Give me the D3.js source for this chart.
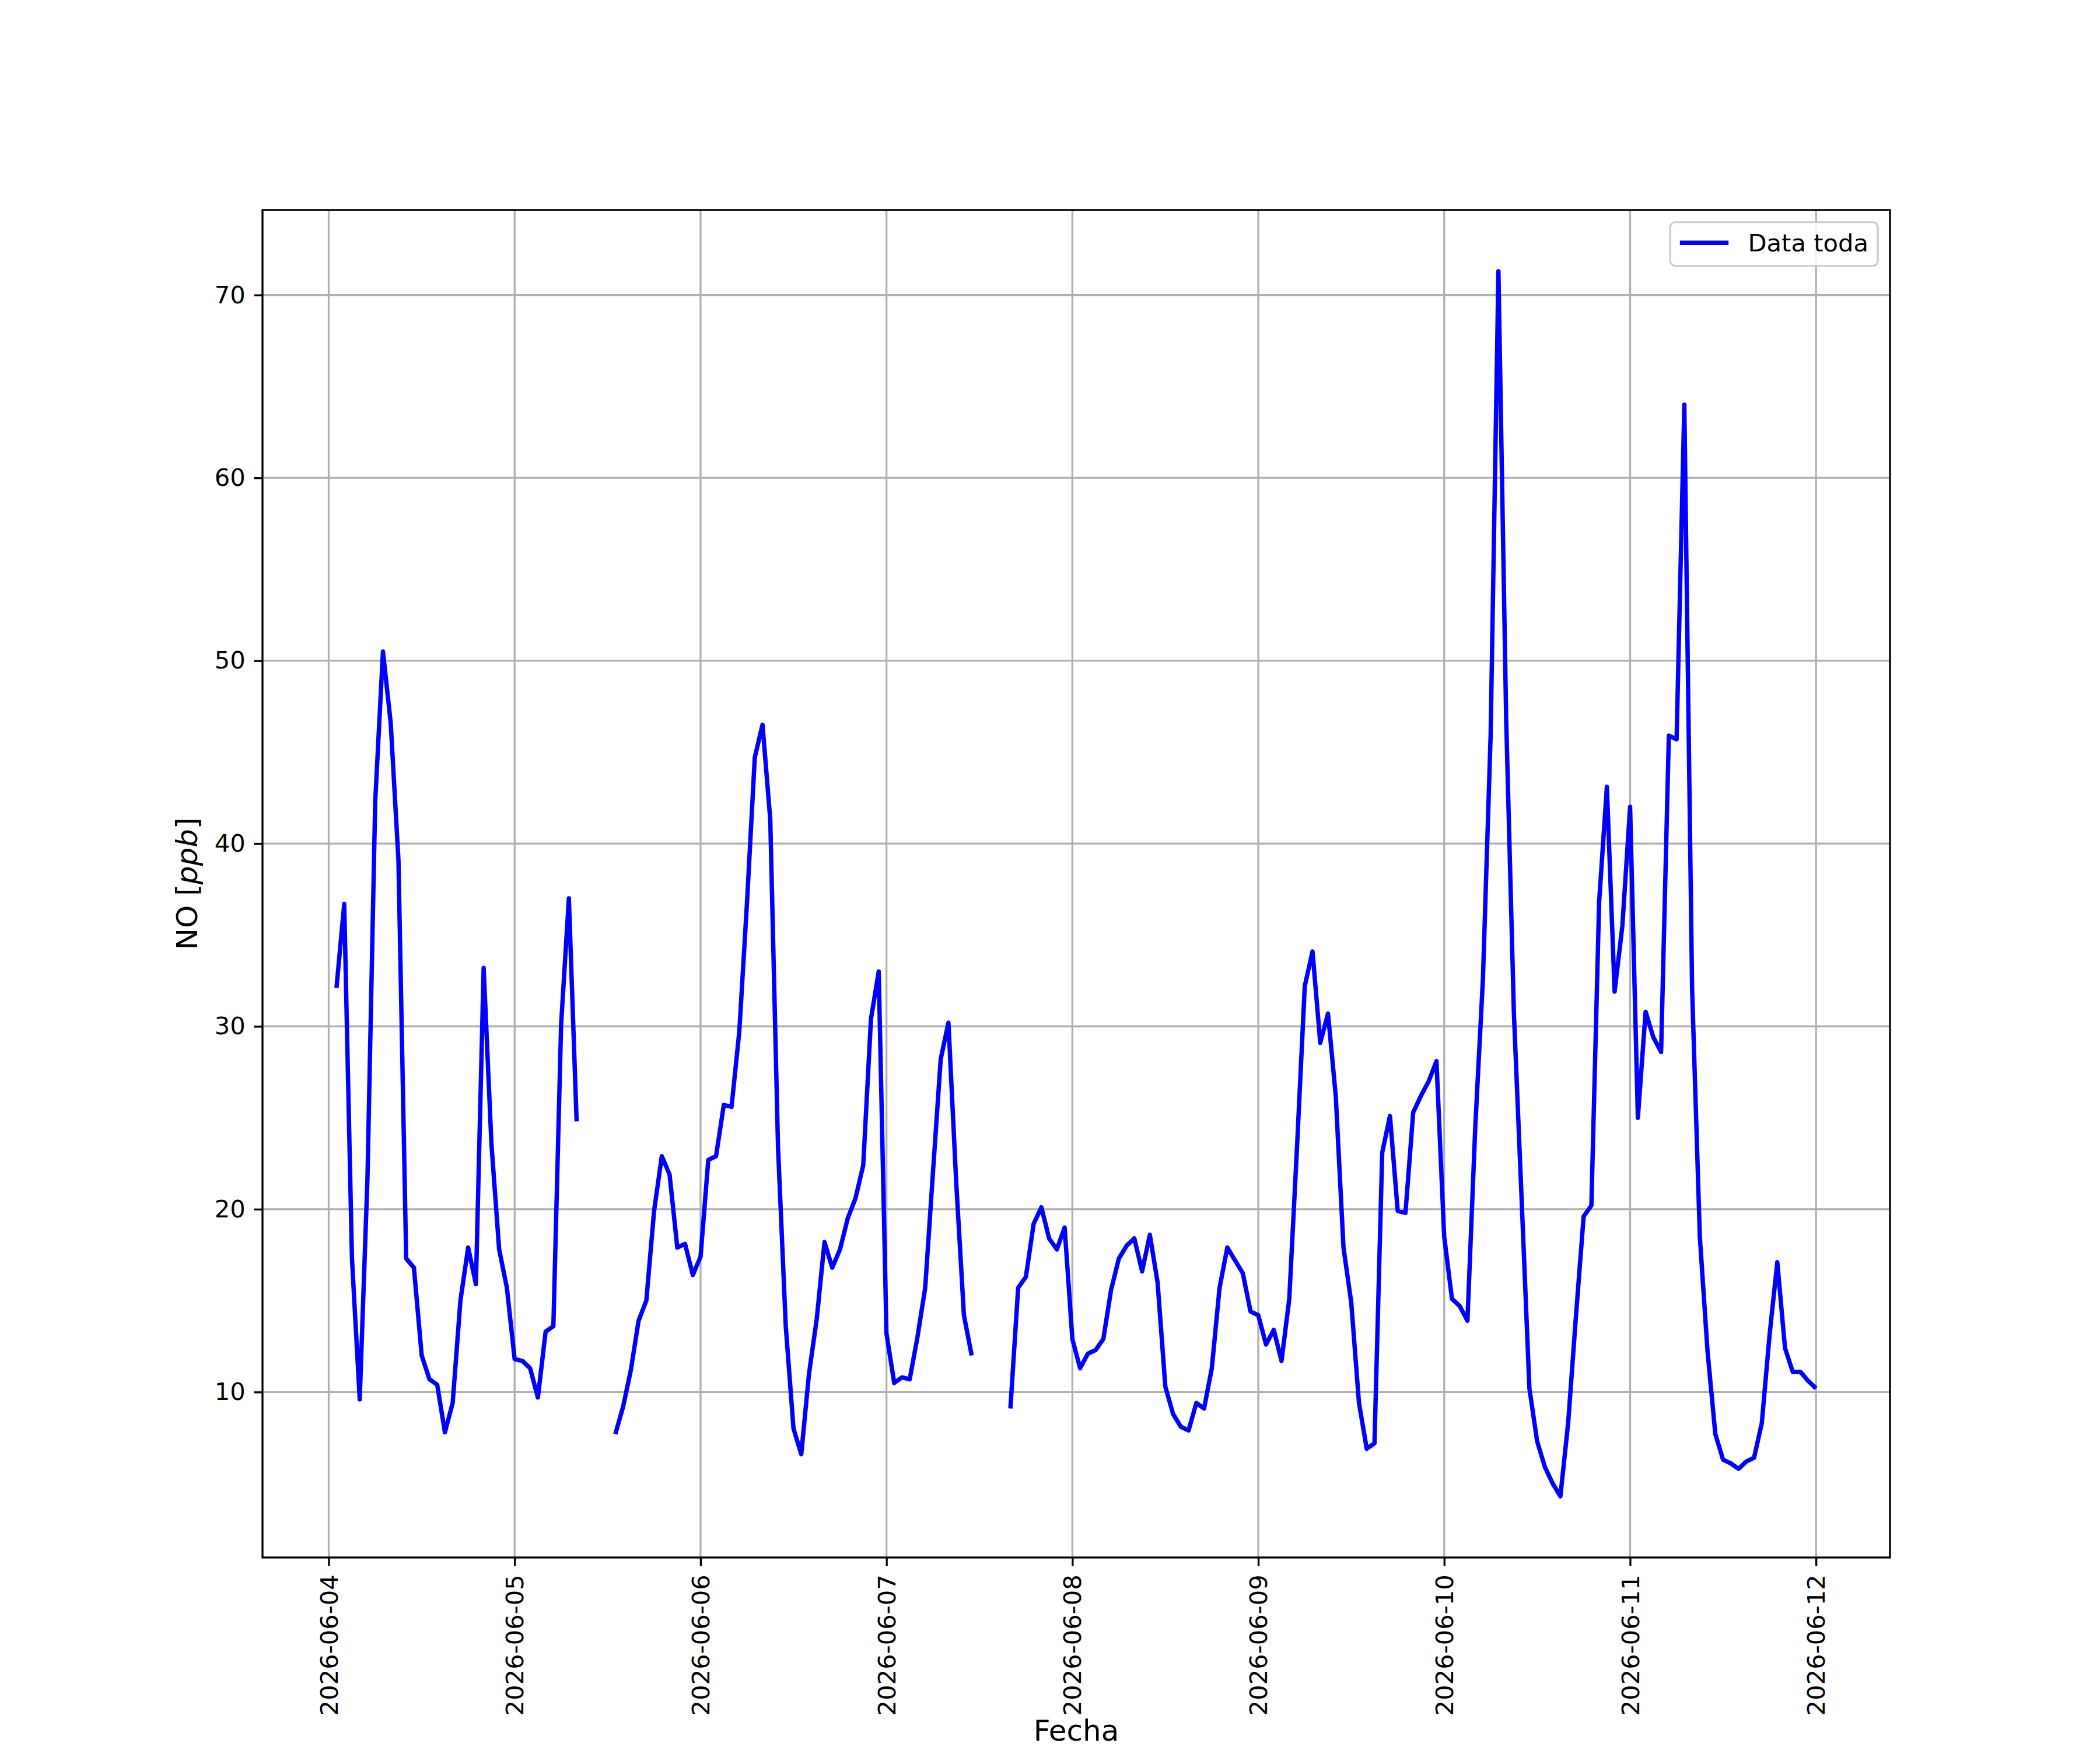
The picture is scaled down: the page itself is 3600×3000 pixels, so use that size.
<!DOCTYPE html>
<html>
<head>
<meta charset="utf-8">
<script src="https://cdn.jsdelivr.net/npm/d3@7"></script>
<style>
  html, body { margin: 0; padding: 0; background: #ffffff; }
  svg { display: block; font-family: "DejaVu Sans", sans-serif; }
</style>
</head>
<body>
<svg id="chart" width="3600" height="3000"></svg>
<script>
// ---------------- DATA ----------------
// Hourly NO concentration [ppb], first sample 2026-06-04 01:00, one value per hour.
const startTime = "2026-06-04T01:00:00Z";
const stepHours = 1;
const seriesName = "Data toda";
const noValues = [
  // 06-04 01:00 .. 06-05 00:00
  32.1, 36.7, 17.3, 9.6, 21.7, 42.3, 50.5, 46.6, 39.1, 17.3, 16.8, 12.0,
  10.7, 10.4, 7.8, 9.4, 15.0, 17.9, 15.9, 33.2, 23.6, 17.8, 15.7, 11.8,
  // 06-05 01:00 .. 06-06 00:00
  11.7, 11.3, 9.7, 13.3, 13.6, 30.1, 37.0, 24.8, null, null, null, null,
  7.7, 9.2, 11.2, 13.9, 15.0, 19.9, 22.9, 21.9, 17.9, 18.1, 16.4, 17.4,
  // 06-06 01:00 .. 06-07 00:00
  22.7, 22.9, 25.7, 25.6, 29.7, 36.8, 44.7, 46.5, 41.3, 23.4, 13.6, 8.0,
  6.6, 11.0, 14.0, 18.2, 16.8, 17.8, 19.5, 20.6, 22.4, 30.4, 33.0, 13.2,
  // 06-07 01:00 .. 06-08 00:00
  10.5, 10.8, 10.7, 13.0, 15.7, 22.0, 28.2, 30.2, 21.5, 14.2, 12.0, null,
  null, null, null, 9.1, 15.7, 16.3, 19.2, 20.1, 18.4, 17.8, 19.0, 12.9,
  // 06-08 01:00 .. 06-09 00:00
  11.3, 12.1, 12.3, 12.9, 15.6, 17.3, 18.0, 18.4, 16.6, 18.6, 16.0, 10.3,
  8.8, 8.1, 7.9, 9.4, 9.1, 11.3, 15.7, 17.9, 17.2, 16.5, 14.4, 14.2,
  // 06-09 01:00 .. 06-10 00:00
  12.6, 13.4, 11.7, 15.1, 23.4, 32.2, 34.1, 29.1, 30.7, 26.2, 17.9, 14.9,
  9.4, 6.9, 7.2, 23.1, 25.1, 19.9, 19.8, 25.3, 26.2, 27.0, 28.1, 18.5,
  // 06-10 01:00 .. 06-11 00:00
  15.1, 14.7, 13.9, 24.4, 32.6, 46.0, 71.3, 46.8, 30.7, 20.5, 10.2, 7.3,
  5.9, 5.0, 4.3, 8.3, 14.1, 19.6, 20.2, 36.8, 43.1, 31.9, 35.5, 42.0,
  // 06-11 01:00 .. 06-12 00:00
  25.0, 30.8, 29.4, 28.6, 45.9, 45.7, 64.0, 32.1, 18.5, 12.2, 7.7, 6.3,
  6.1, 5.8, 6.2, 6.4, 8.3, 13.1, 17.1, 12.4, 11.1, 11.1, 10.6, 10.2
];
const xTickLabels = ["2026-06-04", "2026-06-05", "2026-06-06", "2026-06-07",
                     "2026-06-08", "2026-06-09", "2026-06-10", "2026-06-11", "2026-06-12"];
const yTickValues = [10, 20, 30, 40, 50, 60, 70];
const xAxisTitle = "Fecha";

(function () {
// ---------------- LAYOUT ----------------
const plotL = 450, plotR = 3240, plotT = 360, plotB = 2670;
const pt = 300 / 72;               // px per point
const fs = 10 * pt;                // tick / legend font size
const fsLabel = 12 * pt;           // axis label font size
const lw = 0.8 * pt;               // spine / grid width
const lineW = 7.5;                 // data line width
const tickLen = 3.5 * pt, tickPad = 3.5 * pt;

const svg = d3.select("#chart");

const parseUtc = d3.utcParse("%Y-%m-%dT%H:%M:%SZ");
const t0 = parseUtc(startTime);
const data = noValues.map((v, i) => ({ t: d3.utcHour.offset(t0, i * stepHours), v: v }));

// domains with 5% margins (matplotlib default)
const tExt = d3.extent(data, d => d.t);
const tSpan = tExt[1] - tExt[0];
const vExt = d3.extent(data.filter(d => d.v != null), d => d.v);
const vSpan = vExt[1] - vExt[0];

const x = d3.scaleUtc()
  .domain([new Date(+tExt[0] - 0.05 * tSpan), new Date(+tExt[1] + 0.05 * tSpan)])
  .range([plotL, plotR]);
const y = d3.scaleLinear()
  .domain([vExt[0] - 0.05 * vSpan, vExt[1] + 0.05 * vSpan])
  .range([plotB, plotT]);

const parseDay = d3.utcParse("%Y-%m-%d");
const xTicks = xTickLabels.map(s => parseDay(s));

// ---------------- GRID ----------------
const grid = svg.append("g");
grid.selectAll("line.vx").data(xTicks).enter().append("line")
  .attr("x1", d => x(d)).attr("x2", d => x(d))
  .attr("y1", plotT).attr("y2", plotB)
  .attr("stroke", "#b0b0b0").attr("stroke-width", lw);
grid.selectAll("line.hy").data(yTickValues).enter().append("line")
  .attr("x1", plotL).attr("x2", plotR)
  .attr("y1", d => y(d)).attr("y2", d => y(d))
  .attr("stroke", "#b0b0b0").attr("stroke-width", lw);

// ---------------- LINE ----------------
const line = d3.line()
  .defined(d => d.v != null)
  .x(d => x(d.t))
  .y(d => y(d.v));

svg.append("path")
  .datum(data)
  .attr("d", line)
  .attr("fill", "none")
  .attr("stroke", "#0000ff")
  .attr("stroke-width", lineW)
  .attr("stroke-linejoin", "round")
  .attr("stroke-linecap", "butt");

// ---------------- AXES ----------------
const xAxis = d3.axisBottom(x)
  .tickValues(xTicks)
  .tickFormat(d3.utcFormat("%Y-%m-%d"))
  .tickSize(tickLen)
  .tickPadding(tickPad);
const gx = svg.append("g").attr("transform", `translate(0,${plotB})`).call(xAxis);
gx.select(".domain").remove();
gx.selectAll(".tick line").attr("stroke", "#000").attr("stroke-width", lw);
gx.selectAll(".tick text")
  .attr("font-family", "DejaVu Sans")
  .attr("font-size", fs)
  .attr("fill", "#000")
  .attr("text-anchor", "end")
  .attr("transform", `rotate(-90)`)
  .attr("x", -(tickLen + tickPad))
  .attr("y", 0)
  .attr("dy", "0.35em");

const yAxis = d3.axisLeft(y)
  .tickValues(yTickValues)
  .tickFormat(d3.format("d"))
  .tickSize(tickLen)
  .tickPadding(tickPad);
const gy = svg.append("g").attr("transform", `translate(${plotL},0)`).call(yAxis);
gy.select(".domain").remove();
gy.selectAll(".tick line").attr("stroke", "#000").attr("stroke-width", lw);
gy.selectAll(".tick text")
  .attr("font-family", "DejaVu Sans")
  .attr("font-size", fs)
  .attr("fill", "#000");

// spines
svg.append("rect")
  .attr("x", plotL).attr("y", plotT)
  .attr("width", plotR - plotL).attr("height", plotB - plotT)
  .attr("fill", "none").attr("stroke", "#000").attr("stroke-width", lw);

// ---------------- LABELS ----------------
svg.append("text")
  .attr("x", (plotL + plotR) / 2)
  .attr("y", 2984)
  .attr("text-anchor", "middle")
  .attr("font-family", "DejaVu Sans")
  .attr("font-size", fsLabel)
  .text(xAxisTitle);

const yl = svg.append("text")
  .attr("transform", `translate(338,${(plotT + plotB) / 2}) rotate(-90)`)
  .attr("text-anchor", "middle")
  .attr("font-family", "DejaVu Sans")
  .attr("font-size", fsLabel);
yl.append("tspan").text("NO [");
yl.append("tspan").attr("font-style", "italic").text("ppb");
yl.append("tspan").text("]");

// ---------------- LEGEND ----------------
const pad = 0.5 * fs;
const legW = 356, legH = 75;
const legX = plotR - pad - legW, legY = plotT + pad;
const leg = svg.append("g");
leg.append("rect")
  .attr("x", legX).attr("y", legY)
  .attr("width", legW).attr("height", legH)
  .attr("rx", 9).attr("ry", 9)
  .attr("fill", "#ffffff").attr("fill-opacity", 0.8)
  .attr("stroke", "#cccccc").attr("stroke-width", lw);
leg.append("line")
  .attr("x1", legX + 0.4 * fs).attr("x2", legX + 0.4 * fs + 2 * fs)
  .attr("y1", legY + legH / 2 - 2).attr("y2", legY + legH / 2 - 2)
  .attr("stroke", "#0000ff").attr("stroke-width", lineW);
leg.append("text")
  .attr("x", legX + 0.4 * fs + 2 * fs + 0.8 * fs)
  .attr("y", legY + legH / 2 - 2)
  .attr("dy", "0.35em")
  .attr("font-family", "DejaVu Sans")
  .attr("font-size", fs)
  .text(seriesName);
})();
</script>
</body>
</html>
